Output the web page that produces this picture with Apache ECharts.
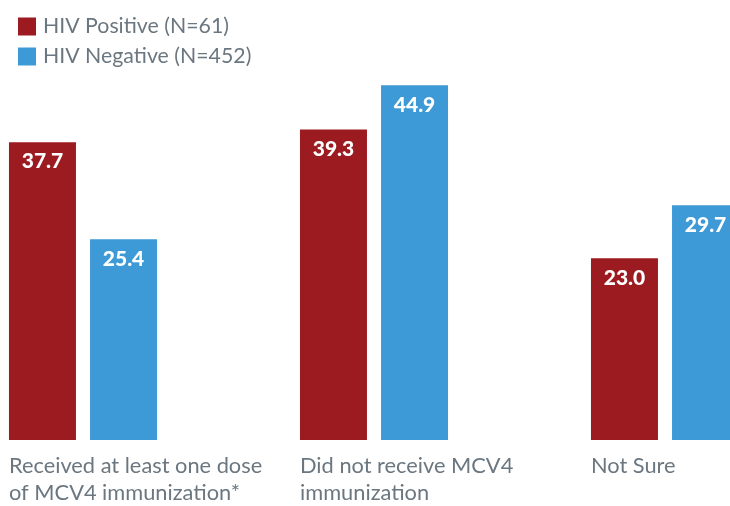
<!DOCTYPE html>
<html><head><meta charset="utf-8">
<script src="https://cdn.jsdelivr.net/npm/echarts@6/dist/echarts.min.js"></script>
<style>html,body{margin:0;padding:0;background:#fff}#c{width:730px;height:506px}</style>
</head><body><div id="c"></div>
<script>
const categories = ['Received at least one dose\nof MCV4 immunization*', 'Did not receive MCV4\nimmunization', 'Not Sure'];
const seriesNames = ['HIV Positive (N=61)', 'HIV Negative (N=452)'];
const hivPositive = [37.7, 39.3, 23.0];
const hivNegative = [25.4, 44.9, 29.7];
const colors = ['#9b1b20', '#3e9ad6'];

const chart = echarts.init(document.getElementById('c'), null, {renderer: 'canvas'});
const font = 'Lato, "Noto Sans", sans-serif';
function mk(name, data, color) {
  return {
    name: name, type: 'bar', data: data, barWidth: 67, barGap: '21%',
    itemStyle: {color: color},
    label: {show: true, position: 'insideTop', distance: 9, color: '#fff',
      fontFamily: font, fontWeight: 900, fontSize: 21,
      formatter: p => p.value.toFixed(1)}
  };
}
chart.setOption({
  animation: false,
  color: colors,
  legend: {
    orient: 'vertical', left: 13, top: 11, itemWidth: 18, itemHeight: 18, itemGap: 9,
    icon: 'rect',
    textStyle: {fontFamily: font, fontSize: 21.3, color: '#6b7780', padding: [0, 0, 0, 2]},
    data: seriesNames
  },
  grid: {left: 83, width: 582, top: 45, height: 395, containLabel: false, outerBoundsMode: 'none'},
  xAxis: {
    type: 'category', data: categories, boundaryGap: false,
    axisLine: {show: false}, axisTick: {show: false},
    axisLabel: {
      interval: 0, margin: 12,
      formatter: v => v.split('\n').map(s => '{a|' + s + '}').join('\n'),
      rich: {a: {width: 148, align: 'left', fontFamily: font, fontSize: 21.8, color: '#6b7780', lineHeight: 27}}
    }
  },
  yAxis: {type: 'value', min: 0, max: 50, show: false, splitLine: {show: false}},
  series: [mk(seriesNames[0], hivPositive, colors[0]), mk(seriesNames[1], hivNegative, colors[1])]
});
</script></body></html>
